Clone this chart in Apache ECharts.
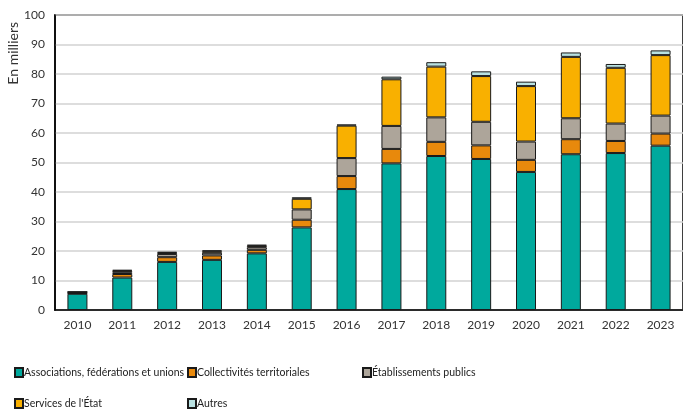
<!DOCTYPE html>
<html>
<head>
<meta charset="utf-8">
<script src="https://cdn.jsdelivr.net/npm/echarts@6/dist/echarts.min.js"></script>
<style>
  html, body { margin: 0; padding: 0; background: #fff; }
  #main { width: 683px; height: 412px; }
</style>
</head>
<body>
<div id="main"></div>
<script>
var annees = ['2010', '2011', '2012', '2013', '2014', '2015', '2016', '2017', '2018', '2019', '2020', '2021', '2022', '2023'];
// en milliers
var associations = [5.5, 11.0, 16.3, 17.0, 19.2, 28.0, 41.0, 49.7, 52.2, 51.2, 46.8, 52.8, 53.2, 55.7];
var collectivites = [0.2, 1.2, 1.6, 1.5, 1.2, 2.6, 4.4, 4.9, 4.8, 4.6, 4.1, 5.1, 4.1, 4.1];
var etablissements = [0.2, 0.6, 1.1, 0.9, 0.9, 3.5, 6.1, 7.8, 8.3, 8.0, 6.2, 7.1, 5.9, 6.1];
var servicesEtat = [0.2, 0.5, 0.4, 0.5, 0.5, 3.6, 11.0, 15.8, 17.2, 15.5, 18.8, 20.8, 18.9, 20.5];
var autres = [0.1, 0.3, 0.3, 0.3, 0.3, 0.5, 0.4, 0.9, 1.5, 1.6, 1.5, 1.5, 1.3, 1.6];
var yTicks = [0, 10, 20, 30, 40, 50, 60, 70, 80, 90, 100];

var police = 'Lato, "Noto Sans", sans-serif';
var couleurs = ['#00a99d', '#e8890c', '#ada59a', '#f9b000', '#b9e2e2'];
var noms = ['Associations, fédérations et unions', 'Collectivités territoriales', 'Établissements publics', "Services de l'État", 'Autres'];
var valeurs = [associations, collectivites, etablissements, servicesEtat, autres];

// une légende par entrée pour garder les colonnes alignées
var positions = [[9, 362], [182, 362], [357, 362], [9, 393], [182, 393]];

var myChart = echarts.init(document.getElementById('main'));

var option = {
    animation: false,
    textStyle: { fontFamily: police },
    grid: {
        left: 55, top: 15, right: -2, bottom: 102,
        show: true, borderColor: '#000', borderWidth: 1.5
    },
    legend: noms.map(function (n, i) {
        return {
            data: [n],
            left: positions[i][0], top: positions[i][1],
            itemWidth: 8, itemHeight: 9, itemGap: 0,
            textStyle: { fontSize: 10.5, color: '#222', fontFamily: police, padding: [0, 0, 0, -4] },
            icon: 'rect'
        };
    }),
    xAxis: {
        type: 'category',
        data: annees,
        axisLine: { lineStyle: { color: '#000', width: 1.5 } },
        axisTick: { show: false },
        axisLabel: { color: '#333', fontSize: 12, margin: 9 }
    },
    yAxis: {
        type: 'value',
        min: yTicks[0], max: yTicks[yTicks.length - 1], interval: 10,
        axisLine: { show: true, lineStyle: { color: '#000', width: 1.5 } },
        axisTick: { show: false },
        axisLabel: { color: '#333', fontSize: 12, margin: 10 },
        splitLine: { lineStyle: { color: '#d2d2d2', width: 1.5 } }
    },
    graphic: [{
        type: 'text',
        left: 6, top: 22,
        rotation: Math.PI / 2,
        style: { text: 'En milliers', fill: '#333', font: '14px ' + police }
    }],
    series: valeurs.map(function (v, i) {
        return {
            name: noms[i],
            type: 'bar',
            stack: 'total',
            barWidth: 20,
            data: v,
            itemStyle: { color: couleurs[i], borderColor: '#1a1a1a', borderWidth: 1 }
        };
    })
};

myChart.setOption(option);
</script>
</body>
</html>
